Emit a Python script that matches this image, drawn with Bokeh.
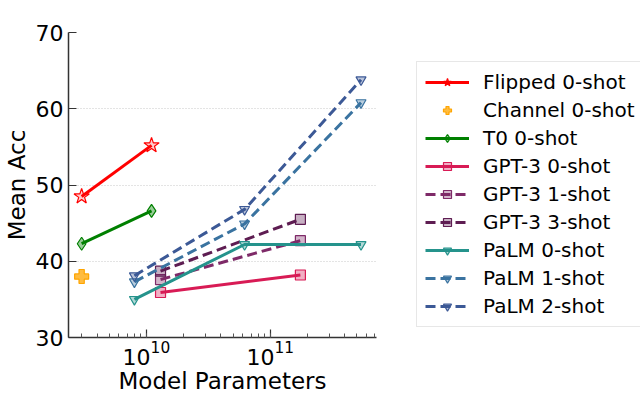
from bokeh.plotting import figure
from bokeh.models import Legend, LegendItem, FixedTicker, Range1d, LogTicker
from bokeh.embed import file_html
from bokeh.resources import INLINE

# Data (model parameters, mean accuracy)
flipped_x = [3e9, 11e9]
flipped_y = [48.5, 55.2]
channel_x = [3e9]
channel_y = [38.0]
t0_x = [3e9, 11e9]
t0_y = [42.3, 46.6]
gpt3_x = [13e9, 175e9]
gpt3_0_y = [35.9, 38.2]
gpt3_1_y = [37.6, 42.7]
gpt3_3_y = [38.7, 45.5]
palm_x = [8e9, 62e9, 540e9]
palm_0_y = [35.0, 42.2, 42.2]
palm_1_y = [37.3, 44.9, 60.8]
palm_2_y = [38.1, 46.8, 63.8]
y_ticks = [30, 40, 50, 60, 70]

FONT = "DejaVu Sans"

p = figure(frame_width=308, frame_height=305, x_axis_type="log",
           x_range=Range1d(2.35e9, 7.2e11), y_range=Range1d(30, 70),
           output_backend="svg", toolbar_location=None,
           min_border_left=0, min_border_top=32, min_border_bottom=0, min_border_right=40)
p.outline_line_color = None
p.xgrid.grid_line_color = None
p.ygrid.grid_line_color = "#c8c8c8"
p.ygrid.grid_line_dash = "1 2"
p.ygrid.grid_line_width = 1
p.ygrid.ticker = FixedTicker(ticks=y_ticks)

p.yaxis.ticker = FixedTicker(ticks=y_ticks)
p.xaxis.ticker = LogTicker(num_minor_ticks=10)
for ax in (p.xaxis, p.yaxis):
    ax.major_label_text_font = FONT
    ax.major_label_text_font_size = "22px"
    ax.major_label_text_color = "black"
    ax.axis_label_text_font = FONT
    ax.axis_label_text_font_size = "23px"
    ax.axis_label_text_font_style = "normal"
    ax.axis_label_text_color = "black"
    ax.axis_line_color = "#333333"
    ax.axis_line_width = 1.5
    ax.major_tick_in = 8
    ax.major_tick_out = 0
    ax.major_tick_line_color = "#333333"
    ax.major_tick_line_width = 1.2
    ax.minor_tick_in = 4
    ax.minor_tick_out = 0
    ax.minor_tick_line_color = "#555555"
p.yaxis.minor_tick_line_color = None
p.xaxis.axis_label = "Model Parameters"
p.yaxis.axis_label = "Mean Acc"
p.yaxis.major_label_standoff = 5
p.xaxis.major_label_standoff = 3
p.xaxis.axis_label_standoff = 0
p.yaxis.axis_label_standoff = 3

items = []

def series(label, xs, ys, color, marker, size, dash="solid", line=True, fill_alpha=0.35):
    rs = []
    if line:
        rs.append(p.line(xs, ys, line_color=color, line_width=3, line_dash=dash))
    rs.append(p.scatter(xs, ys, marker=marker, size=size, line_color=color,
                        fill_color=color, fill_alpha=fill_alpha, line_width=1.2))
    items.append(LegendItem(label=label, renderers=rs))

series("Flipped 0-shot", flipped_x, flipped_y, "#ff0000", "star", 16, fill_alpha=0.2)
series("Channel 0-shot", channel_x, channel_y, "#ffa500", "plus", 14, line=False, fill_alpha=0.75)
series("T0 0-shot", t0_x, t0_y, "#008000", "diamond", 13, fill_alpha=0.4)
series("GPT-3 0-shot", gpt3_x, gpt3_0_y, "#d81b55", "square", 10)
series("GPT-3 1-shot", gpt3_x, gpt3_1_y, "#7e2a68", "square", 10, dash="10 5")
series("GPT-3 3-shot", gpt3_x, gpt3_3_y, "#5e1d52", "square", 10, dash="10 5")
series("PaLM 0-shot", palm_x, palm_0_y, "#25938c", "inverted_triangle", 10)
series("PaLM 1-shot", palm_x, palm_1_y, "#3a73a0", "inverted_triangle", 10, dash="10 5")
series("PaLM 2-shot", palm_x, palm_2_y, "#3c5996", "inverted_triangle", 10, dash="10 5")

legend = Legend(items=items, location=(40, 10))
legend.label_text_font = FONT
legend.label_text_font_size = "20px"
legend.label_text_color = "black"
legend.glyph_width = 44
legend.glyph_height = 20
legend.label_height = 20
legend.spacing = 4
legend.label_standoff = 14
legend.padding = 8
legend.margin = 0
legend.border_line_color = "#d0d0d0"
legend.border_line_width = 1
legend.background_fill_alpha = 1
p.add_layout(legend, "right")

open("out.html", "w").write(file_html(p, INLINE))
